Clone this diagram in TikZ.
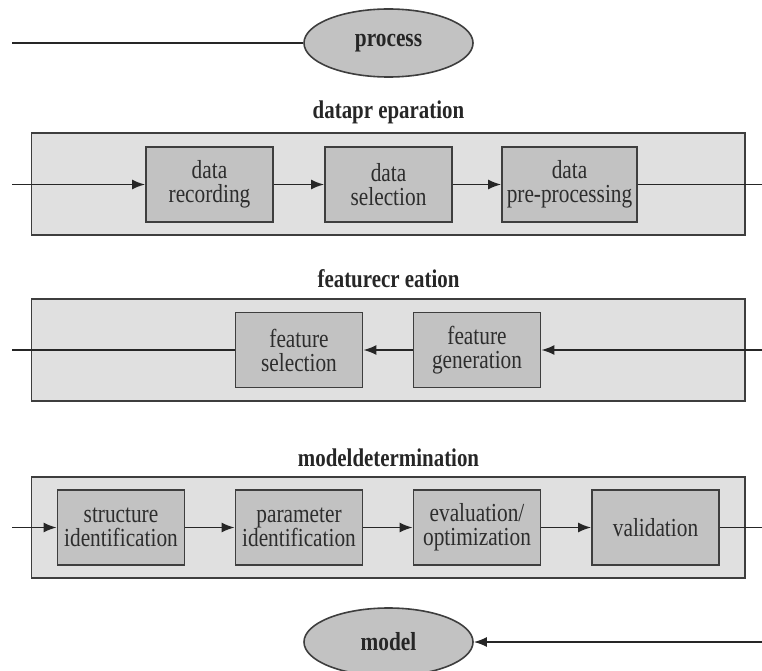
\documentclass[tikz,border=0pt]{standalone}
\usepackage{fontspec}
\setmainfont{Liberation Serif}
\newfontfamily\condser[FakeStretch=0.82]{Liberation Serif}
\usetikzlibrary{shapes.geometric,arrows.meta}
\definecolor{outerfill}{RGB}{224,224,224}
\definecolor{innerfill}{RGB}{194,194,194}
\definecolor{edgecol}{RGB}{62,62,62}
\definecolor{txtcol}{RGB}{45,45,45}
\tikzset{
  outerbox/.style={draw=edgecol, fill=outerfill, line width=1.8pt},
  stepbox/.style={draw=edgecol, fill=innerfill, line width=1.8pt, minimum width=127pt, minimum height=75pt,
    inner sep=0pt, align=center, text=txtcol, font=\condser\fontsize{26}{24}\selectfont},
  oval/.style={ellipse, draw=edgecol, fill=innerfill, line width=1.6pt, minimum width=169pt, minimum height=68pt,
    inner sep=0pt, font=\condser\bfseries\fontsize{26}{24}\selectfont, text=black!85},
  grouplabel/.style={font=\condser\bfseries\fontsize{25.5}{24}\selectfont, text=black!85},
  conn/.style={draw=black!85, line width=1.7pt},
  arr/.style={conn, -{Latex[length=13pt,width=10pt]}}
}
\begin{document}
\begin{tikzpicture}[x=1pt,y=-1pt]
\useasboundingbox (0,0) rectangle (762,671);
% process
\node[oval] (proc) at (388.5,43) {process};
\coordinate (pin) at (12,43);
\draw[conn] (pin) -- (proc.west);
% data preparation
\node[grouplabel] (lA) at (388.5,112) {datapr eparation};
\path[outerbox] (31.5,133) rectangle (745,235);
\node[stepbox] (rec) at (209.5,184.5) {data\\recording};
\node[stepbox] (sel) at (388.5,184.5) {data\\selection};
\node[stepbox, minimum width=135pt] (pre) at (569.5,184.5) {data\\pre-processing};
\coordinate (ainL) at (12,184.5);
\coordinate (aoutR) at (762,184.5);
\draw[arr] (ainL) -- (rec.west);
\draw[arr] (rec.east) -- (sel.west);
\draw[arr] (sel.east) -- (pre.west);
\draw[conn] (pre.east) -- (aoutR);
% feature creation
\node[grouplabel] (lB) at (388.5,279) {featurecr eation};
\path[outerbox] (31.5,299) rectangle (745,401);
\node[stepbox] (fsel) at (299,350) {feature\\selection};
\node[stepbox] (fgen) at (477,350) {feature\\generation};
\coordinate (binR) at (762,350);
\coordinate (boutL) at (12,350);
\draw[arr] (binR) -- (fgen.east);
\draw[arr] (fgen.west) -- (fsel.east);
\draw[conn] (fsel.west) -- (boutL);
% model determination
\node[grouplabel] (lC) at (388.5,458) {modeldetermination};
\path[outerbox] (31.5,477) rectangle (745,578);
\node[stepbox] (str) at (121,527.5) {structure\\identification};
\node[stepbox] (par) at (299,527.5) {parameter\\identification};
\node[stepbox] (eva) at (477,527.5) {evaluation/\\optimization};
\node[stepbox] (val) at (655.5,527.5) {validation};
\coordinate (cinL) at (12,527.5);
\coordinate (coutR) at (762,527.5);
\draw[arr] (cinL) -- (str.west);
\draw[arr] (str.east) -- (par.west);
\draw[arr] (par.east) -- (eva.west);
\draw[arr] (eva.east) -- (val.west);
\draw[conn] (val.east) -- (coutR);
% model
\node[oval] (model) at (388.5,642) {model};
\coordinate (min) at (762,642);
\draw[arr] (min) -- (model.east);
\end{tikzpicture}
\end{document}
